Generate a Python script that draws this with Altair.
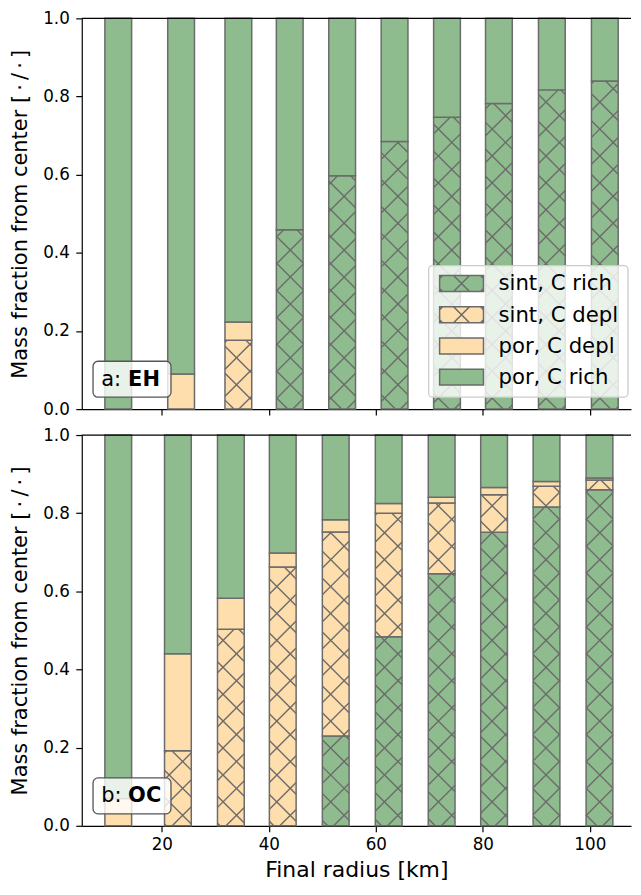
import math
import altair as alt
import pandas as pd

# ---------------- data ----------------
categories = ["sint, C rich", "sint, C depl", "por, C depl", "por, C rich"]
cat_hatched = [True, True, False, False]
cat_colors = ["#8fbc8f", "#ffdead", "#ffdead", "#8fbc8f"]

# bar centres (final radius, km)
radius_eh = [11.85, 23.6, 34.3, 43.9, 53.7, 63.5, 73.3, 83.0, 92.9, 102.8]
radius_oc = [11.85, 23.0, 32.9, 42.6, 52.5, 62.4, 72.3, 82.1, 91.9, 101.8]

# mass fraction of each layer, from the centre outwards
eh_sint_rich = [0.0, 0.0, 0.0, 0.459, 0.597, 0.685, 0.747, 0.782, 0.817, 0.840]
eh_sint_depl = [0.0, 0.0, 0.176, 0.0, 0.0, 0.0, 0.0, 0.0, 0.0, 0.0]
eh_por_depl = [0.0, 0.090, 0.047, 0.0, 0.0, 0.0, 0.0, 0.0, 0.0, 0.0]
eh_por_rich = [1.0, 0.910, 0.777, 0.541, 0.403, 0.315, 0.253, 0.218, 0.183, 0.160]

oc_sint_rich = [0.0, 0.0, 0.0, 0.0, 0.230, 0.484, 0.645, 0.751, 0.816, 0.860]
oc_sint_depl = [0.0, 0.192, 0.503, 0.662, 0.522, 0.316, 0.181, 0.096, 0.053, 0.025]
oc_por_depl = [0.07, 0.248, 0.079, 0.036, 0.031, 0.025, 0.015, 0.019, 0.012, 0.005]
oc_por_rich = [0.93, 0.560, 0.418, 0.302, 0.217, 0.175, 0.159, 0.134, 0.119, 0.110]

x_ticks = [20, 40, 60, 80, 100]
y_ticks = [0.0, 0.2, 0.4, 0.6, 0.8, 1.0]
panel_tags = ["a:", "b:"]
panel_names = ["EH", "OC"]

# ---------------- geometry / style ----------------
BAR_W = 5.0
W, H, GAP = 551, 392, 26
XMIN = 5.03
SX = 5.367
XMAX = XMIN + W / SX
SY = float(H)
P = 27.0            # hatch spacing in px
PH_A, PH_B = 17.3, 3.7
EDGE = "#6b6b6b"
FONT = "DejaVu Sans"


def clip_lines(X0, X1, Y0, Y1, pa, pb, per):
    out = []
    eps = 0.05 * per / 27.0
    k = math.ceil((Y0 - X1 - pa) / per)
    c = pa + k * per
    while c <= Y1 - X0:
        lo = max(X0, Y0 - c)
        hi = min(X1, Y1 - c)
        if hi - lo > eps:
            out.append((lo, lo + c, hi, hi + c))
        c += per
    k = math.ceil((Y0 + X0 - pb) / per)
    c = pb + k * per
    while c <= Y1 + X1:
        lo = max(X0, c - Y1)
        hi = min(X1, c - Y0)
        if hi - lo > eps:
            out.append((lo, c - lo, hi, c - hi))
        c += per
    return out


def hatch(x0, x1, y0, y1, yoff):
    X0, X1 = (x0 - XMIN) * SX, (x1 - XMIN) * SX
    Y0, Y1 = y0 * SY + yoff, y1 * SY + yoff
    segs = clip_lines(X0, X1, Y0, Y1, PH_A, PH_B, P)
    return [(XMIN + a / SX, (b - yoff) / SY, XMIN + c / SX, (d - yoff) / SY)
            for a, b, c, d in segs]


def build(radii, series, yoff):
    rows = []
    for i, r in enumerate(radii):
        base = 0.0
        for ci, cat in enumerate(categories):
            v = series[ci][i]
            if v <= 0:
                continue
            x0, x1 = r - BAR_W / 2, r + BAR_W / 2
            y0, y1 = base, base + v
            rows.append(dict(kind="bar", cat=cat, x0=x0, x1=x1, y0=y0, y1=y1))
            if cat_hatched[ci]:
                for a, b, c, d in hatch(x0, x1, y0, y1, yoff):
                    rows.append(dict(kind="hatch", cat=cat, x0=a, x1=c, y0=b, y1=d))
            base = y1
    return pd.DataFrame(rows)


def legend_path(hatch_on):
    hh = 8.0 / 22.0
    s = f"M-1,{-hh:.3f}H1V{hh:.3f}H-1Z"
    if hatch_on:
        for a, b, c, d in clip_lines(-1.0, 1.0, -hh, hh, 0.0, 0.0, P / 22.0):
            s += f" M{a:.3f},{b:.3f}L{c:.3f},{d:.3f}"
    return s


legend_shapes = [legend_path(h) for h in cat_hatched]

df_eh = build(radius_eh, [eh_sint_rich, eh_sint_depl, eh_por_depl, eh_por_rich], H + GAP)
df_oc = build(radius_oc, [oc_sint_rich, oc_sint_depl, oc_por_depl, oc_por_rich], 0.0)

xscale = alt.Scale(domain=[XMIN, XMAX], nice=False, zero=False)
yscale = alt.Scale(domain=[0, 1], nice=False, zero=False)
ytitle = "Mass fraction from center [\u2009·\u2009/\u2009·\u2009]"


def legend_layers():
    one = pd.DataFrame({"k": [0]})
    bl, bt = W - 203, H - 144          # legend box, top-left corner (px)
    layers = [
        alt.Chart(one).mark_rect(
            cornerRadius=4, fill="white", fillOpacity=0.8, stroke="#cccccc",
            strokeWidth=1.3
        ).encode(x=alt.value(bl), x2=alt.value(W - 3), y=alt.value(bt),
                 y2=alt.value(H - 12))
    ]
    for i, cat in enumerate(categories):
        yc = bt + 18 + 31.3 * i
        layers.append(
            alt.Chart(one).mark_point(
                shape=legend_shapes[i], size=1936, filled=True, fill=cat_colors[i],
                stroke=EDGE, strokeWidth=1.5, opacity=1
            ).encode(x=alt.value(bl + 33), y=alt.value(yc))
        )
        layers.append(
            alt.Chart(one).mark_text(
                align="left", baseline="middle", fontSize=21.3, font=FONT, color="black"
            ).encode(x=alt.value(bl + 70), y=alt.value(yc + 1), text=alt.value(cat))
        )
    return layers


def panel(df, idx, bottom):
    if bottom:
        xaxis = alt.Axis(values=x_ticks, format="d", title="Final radius [km]",
                         labelPadding=5, titlePadding=6, titleFontSize=22)
    else:
        xaxis = alt.Axis(values=x_ticks, labels=False, title=None)
    yaxis = alt.Axis(values=y_ticks, format=".1f", title=ytitle,
                     labelPadding=6.5, titlePadding=12.5, titleFontSize=21)
    X = alt.X("x0:Q", scale=xscale, axis=xaxis)
    Y = alt.Y("y0:Q", scale=yscale, axis=yaxis)

    base = alt.Chart(df).properties(width=W, height=H)
    bars = base.transform_filter(alt.datum.kind == "bar").mark_rect(
        stroke=EDGE, strokeWidth=1.5
    ).encode(
        x=X, x2="x1:Q", y=Y, y2="y1:Q",
        color=alt.Color("cat:N", scale=alt.Scale(domain=categories, range=cat_colors),
                        legend=None),
    )
    lines = base.transform_filter(alt.datum.kind == "hatch").mark_rule(
        stroke=EDGE, strokeWidth=1.4
    ).encode(x=X, x2="x1:Q", y=Y, y2="y1:Q")

    one = pd.DataFrame({"tag": [panel_tags[idx]], "name": [panel_names[idx]]})
    topline = alt.Chart(one).mark_rule(color="black", strokeWidth=1.2).encode(
        y=alt.datum(1.0))
    box = alt.Chart(one).mark_rect(
        cornerRadius=5, fill="white", fillOpacity=0.8, stroke="#555555", strokeWidth=1.3
    ).encode(x=alt.value(11.3), x2=alt.value(89.5), y=alt.value(H - 48),
             y2=alt.value(H - 12))
    t1 = alt.Chart(one).mark_text(align="left", baseline="middle", fontSize=21,
                                  font=FONT, color="black").encode(
        x=alt.value(19.5), y=alt.value(H - 29.5), text="tag:N")
    t2 = alt.Chart(one).mark_text(align="left", baseline="middle", fontSize=21,
                                  font=FONT, fontWeight="bold", color="black").encode(
        x=alt.value(46.5), y=alt.value(H - 29.5), text="name:N")

    layers = [bars, lines, topline, box, t1, t2]
    if not bottom:
        layers += legend_layers()
    return alt.layer(*layers)


chart = alt.vconcat(
    panel(df_eh, 0, False),
    panel(df_oc, 1, True),
    spacing=GAP,
    bounds="flush",
    padding={"left": 0, "top": 0, "right": 0, "bottom": 0},
).configure(
    font=FONT
).configure_view(
    stroke="transparent"
).configure_axis(
    domainColor="black", domainWidth=1.2, tickColor="black", tickWidth=1.2,
    tickSize=6, labelFontSize=16.8, labelColor="black", labelFont=FONT,
    titleFontSize=22, titleFontWeight="normal", titleColor="black", titleFont=FONT,
    grid=False,
)

chart.save("out.html", embed_options={"renderer": "svg", "actions": False})
